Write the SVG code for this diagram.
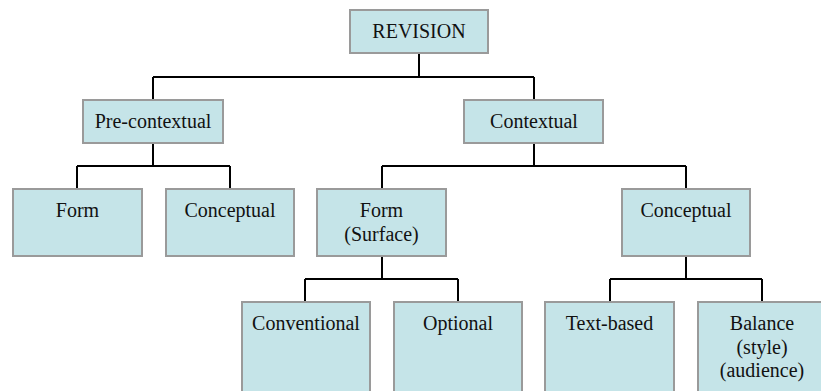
<svg xmlns="http://www.w3.org/2000/svg" width="821" height="391" viewBox="0 0 821 391">
<style>
.box{fill:#c5e4e8;stroke:#9a9a9a;stroke-width:2}
.t{font-family:"Liberation Serif","Times New Roman",serif;font-size:20px;fill:#111;text-anchor:middle}
.c{fill:none;stroke:#000;stroke-width:2}
</style>
<rect width="821" height="391" fill="#fff"/>
<g id="connectors" class="c">
<path d="M419 53V77M153 77H534M153 77V100M534 77V100"/>
<path d="M153 143V166M77 166H230M77 166V189M230 166V189"/>
<path d="M534 143V166M382 166H686M382 166V189M686 166V189"/>
<path d="M382 256V279M305 279H458M305 279V302M458 279V302"/>
<path d="M686 256V279M610 279H762M610 279V302M762 279V302"/>
</g>
<g id="revision"><rect class="box" x="350" y="10" width="138" height="43"/><text class="t" x="419" y="38">REVISION</text></g>
<g id="precontextual"><rect class="box" x="83" y="100" width="140" height="43"/><text class="t" x="153" y="128">Pre-contextual</text></g>
<g id="contextual"><rect class="box" x="464" y="100" width="139" height="43"/><text class="t" x="534" y="128">Contextual</text></g>
<g id="form1"><rect class="box" x="13" y="189" width="129" height="67"/><text class="t" x="77.5" y="217">Form</text></g>
<g id="conceptual1"><rect class="box" x="166" y="189" width="128" height="67"/><text class="t" x="230" y="217">Conceptual</text></g>
<g id="form2"><rect class="box" x="317" y="189" width="129" height="67"/><text class="t" x="381.5" y="217">Form</text><text class="t" x="381.5" y="240.5">(Surface)</text></g>
<g id="conceptual2"><rect class="box" x="622" y="189" width="128" height="67"/><text class="t" x="686" y="217">Conceptual</text></g>
<g id="conventional"><rect class="box" x="242" y="302" width="128" height="100"/><text class="t" x="306" y="330">Conventional</text></g>
<g id="optional"><rect class="box" x="394" y="302" width="128" height="100"/><text class="t" x="458" y="330">Optional</text></g>
<g id="textbased"><rect class="box" x="545" y="302" width="129" height="100"/><text class="t" x="609.5" y="330">Text-based</text></g>
<g id="balance"><rect class="box" x="698" y="302" width="128" height="100"/><text class="t" x="762" y="330">Balance</text><text class="t" x="762" y="353.5">(style)</text><text class="t" x="762" y="377">(audience)</text></g>
</svg>
